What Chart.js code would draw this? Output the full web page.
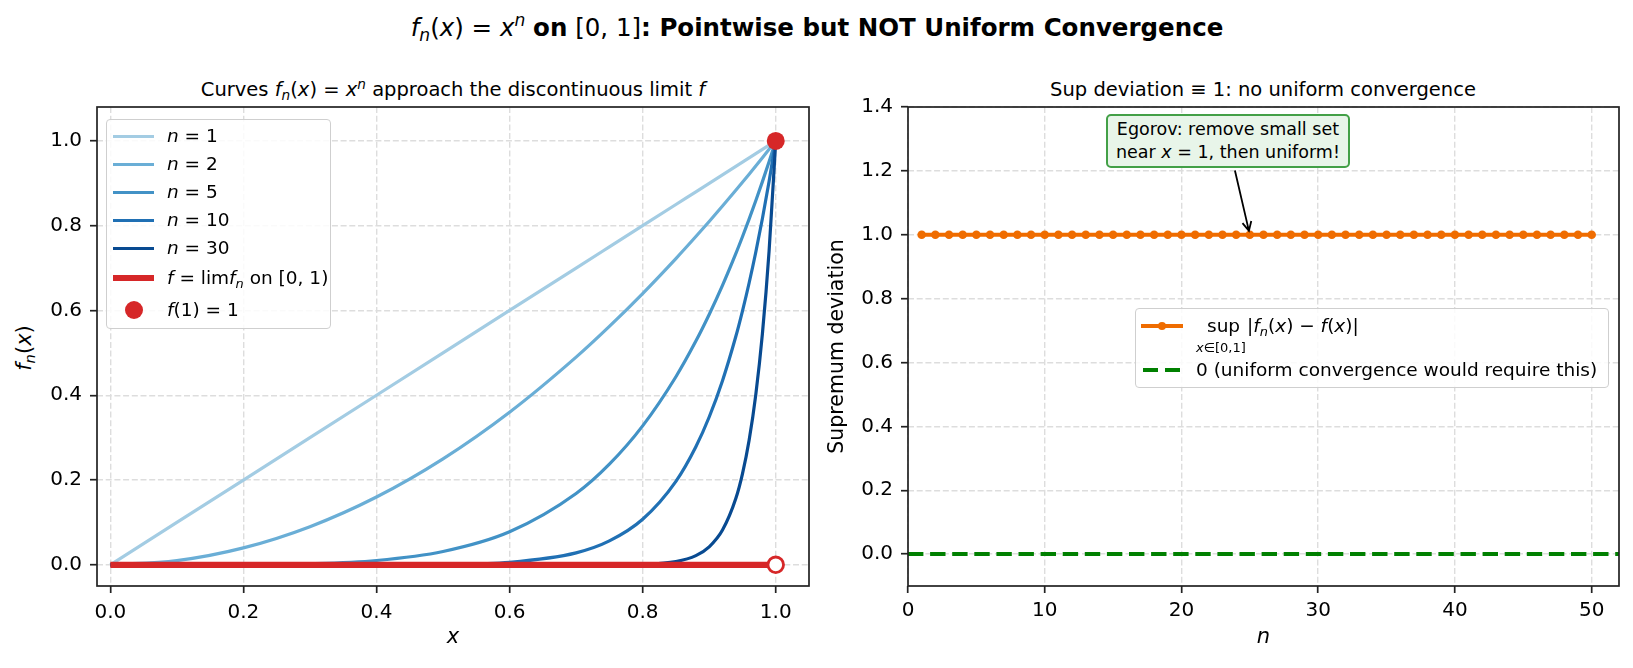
<!DOCTYPE html>
<html>
<head>
<meta charset="utf-8">
<script src="https://cdn.jsdelivr.net/npm/chart.js@4.4.1/dist/chart.umd.min.js"></script>
<style>
  body { margin: 0; width: 1633px; height: 668px; background: #fff; position: relative; overflow: hidden; font-family: "DejaVu Sans"; color: #000; }
  canvas { position: absolute; top: 0; }
  .txt { position: absolute; white-space: nowrap; line-height: 1; transform: translate(-50%, -50%); }
  .m sub { font-size: 0.7em; vertical-align: -0.3em; line-height: 0; }
  .m sup { font-size: 0.7em; vertical-align: 0.55em; line-height: 0; }
  .legend { position: absolute; box-sizing: border-box; border: 1.5px solid #cfcfcf; border-radius: 4px; background: rgba(255,255,255,0.85); font-size: 18.5px; }
  .legend .sw { position: absolute; }
  .legend .lab { position: absolute; white-space: nowrap; line-height: 1; transform: translateY(-50%); }
  #note { position: absolute; box-sizing: border-box; border: 2px solid #43a047; border-radius: 5px; background: #e8f5e9; font-size: 17.5px; line-height: 1.32; text-align: center; padding: 2px 8px; white-space: nowrap; }
</style>
</head>
<body>
<div class="txt m" style="left:817px; top:28px; font-size:24.5px;"><i>f</i><sub><i>n</i></sub>(<i>x</i>) = <i>x</i><sup><i>n</i></sup> <b>on</b> [0, 1]<b>: Pointwise but NOT Uniform Convergence</b></div>
<div class="txt m" style="left:453px; top:90px; font-size:19.5px;">Curves <i>f</i><sub><i>n</i></sub>(<i>x</i>) = <i>x</i><sup><i>n</i></sup> approach the discontinuous limit <i>f</i></div>
<div class="txt m" style="left:1263px; top:90px; font-size:19.5px;">Sup deviation ≡ 1: no uniform convergence</div>
<div class="txt m" style="left:24px; top:348px; font-size:21px; transform: translate(-50%, -50%) rotate(-90deg);"><i>f</i><sub><i>n</i></sub>(<i>x</i>)</div>

<canvas id="left-chart" width="830" height="668" style="left:0px"></canvas>
<canvas id="right-chart" width="807" height="668" style="left:826px"></canvas>

<div id="note" class="m">Egorov: remove small set<br>near <i>x</i> = 1, then uniform!</div>
<div id="left-legend" class="legend m" style="left:106px; top:119px; width:225px; height:210px;"></div>
<div id="right-legend" class="legend m" style="left:1135px; top:308px; width:474px; height:80px;"></div>

<script>
// ---- left panel: f_n(x) = x^n ----
const xs   = [0, 0.1, 0.2, 0.3, 0.4, 0.5, 0.6, 0.7, 0.75, 0.8, 0.85, 0.88, 0.9, 0.92, 0.94, 0.95, 0.96, 0.97, 0.98, 0.99, 1];
const yN1  = [0, 0.1, 0.2, 0.3, 0.4, 0.5, 0.6, 0.7, 0.75, 0.8, 0.85, 0.88, 0.9, 0.92, 0.94, 0.95, 0.96, 0.97, 0.98, 0.99, 1];
const yN2  = [0, 0.01, 0.04, 0.09, 0.16, 0.25, 0.36, 0.49, 0.5625, 0.64, 0.7225, 0.7744, 0.81, 0.8464, 0.8836, 0.9025, 0.9216, 0.9409, 0.9604, 0.9801, 1];
const yN5  = [0, 0.00001, 0.0003, 0.0024, 0.0102, 0.0313, 0.0778, 0.1681, 0.2373, 0.3277, 0.4437, 0.5277, 0.5905, 0.6591, 0.7339, 0.7738, 0.8154, 0.8587, 0.9039, 0.951, 1];
const yN10 = [0, 0, 0, 0.000006, 0.0001, 0.001, 0.006, 0.0282, 0.0563, 0.1074, 0.1969, 0.2785, 0.3487, 0.4344, 0.5386, 0.5987, 0.6648, 0.7374, 0.8171, 0.9044, 1];
const yN30 = [0, 0, 0, 0, 0, 0, 0, 0.00002, 0.0002, 0.0012, 0.0076, 0.0216, 0.0424, 0.082, 0.1563, 0.2146, 0.2939, 0.401, 0.5455, 0.7397, 1];
const limitX = [0, 1];
const limitY = [0, 0];
const jumpX = [1];
const jumpY = [1];
const holeX = [1];
const holeY = [0];
const leftXTicks = [0, 0.2, 0.4, 0.6, 0.8, 1.0];
const leftYTicks = [0, 0.2, 0.4, 0.6, 0.8, 1.0];

// ---- right panel: sup deviation for n = 1..50 ----
const nValues = [1, 2, 3, 4, 5, 6, 7, 8, 9, 10, 11, 12, 13, 14, 15, 16, 17, 18, 19, 20, 21, 22, 23, 24, 25,
                 26, 27, 28, 29, 30, 31, 32, 33, 34, 35, 36, 37, 38, 39, 40, 41, 42, 43, 44, 45, 46, 47, 48, 49, 50];
const supDeviation = [1, 1, 1, 1, 1, 1, 1, 1, 1, 1, 1, 1, 1, 1, 1, 1, 1, 1, 1, 1, 1, 1, 1, 1, 1,
                      1, 1, 1, 1, 1, 1, 1, 1, 1, 1, 1, 1, 1, 1, 1, 1, 1, 1, 1, 1, 1, 1, 1, 1, 1];
const zeroX = [0, 52];
const zeroY = [0, 0];
const rightXTicks = [0, 10, 20, 30, 40, 50];
const rightYTicks = [0, 0.2, 0.4, 0.6, 0.8, 1.0, 1.2, 1.4];
const notePos = { x: 23.4, y: 1.295 };
const noteTarget = { x: 25, y: 1.0 };

const blues = ["#a3cce3", "#6aaed6", "#4292c6", "#2070b4", "#084a91"];
const red = "#d62728";
const orange = "#ef6c00";
const green = "#008000";

Chart.defaults.font.family = "DejaVu Sans";
Chart.defaults.color = "#000";

const pts = (x, y) => x.map((v, i) => ({ x: v, y: y[i] }));

// axes frame on all four sides, like matplotlib spines
const frame = {
  id: "frame",
  afterDraw(chart) {
    const { ctx, chartArea: a } = chart;
    ctx.save();
    ctx.strokeStyle = "#222";
    ctx.lineWidth = 1.7;
    ctx.strokeRect(a.left, a.top, a.right - a.left, a.bottom - a.top);
    ctx.restore();
  },
};

function axis(min, max, ticks, decimals, size, title) {
  return {
    type: "linear",
    min: min,
    max: max,
    afterBuildTicks: (s) => { s.ticks = ticks.map((v) => ({ value: v })); },
    afterFit: (s) => { if (s.isHorizontal()) s.height = size; else s.width = size; },
    ticks: {
      font: { size: 20 },
      color: "#000",
      padding: decimals === null ? 6 : 8,
      maxRotation: 0,
      autoSkip: false,
      callback: (v) => (decimals === null ? v : Number(v).toFixed(decimals)),
    },
    grid: {
      color: "#dddddd",
      lineWidth: 1.4,
      tickLength: 7,
      tickColor: "#222",
      tickWidth: 1.7,
      tickBorderDash: [],
    },
    border: { display: false, dash: [6, 2.7] },
    title: title,
  };
}

function curve(label, y, color, order) {
  return {
    label: label,
    data: pts(xs, y),
    borderColor: color,
    backgroundColor: color,
    borderWidth: 3.2,
    pointRadius: 0,
    cubicInterpolationMode: "monotone",
    order: order,
  };
}

new Chart(document.getElementById("left-chart"), {
  type: "line",
  data: {
    datasets: [
      curve("n = 1", yN1, blues[0], 6),
      curve("n = 2", yN2, blues[1], 5),
      curve("n = 5", yN5, blues[2], 4),
      curve("n = 10", yN10, blues[3], 3),
      curve("n = 30", yN30, blues[4], 2),
      { label: "limit", data: pts(limitX, limitY), borderColor: red, borderWidth: 6.2, pointRadius: 0, order: 1 },
      { label: "f(1)", data: pts(jumpX, jumpY), showLine: false, pointRadius: 9, pointBackgroundColor: red, pointBorderWidth: 0, order: 0 },
      { label: "hole", data: pts(holeX, holeY), showLine: false, pointRadius: 7.8, pointBackgroundColor: "#fff", pointBorderColor: red, pointBorderWidth: 2.8, order: 0 },
    ],
  },
  options: {
    responsive: false,
    animation: false,
    layout: { padding: { left: 0, right: 21, top: 107, bottom: 0 } },
    plugins: { legend: { display: false }, tooltip: { enabled: false } },
    scales: {
      x: axis(-0.02, 1.05, leftXTicks, 1, 82, {
        display: true, text: "x", font: { size: 21, style: "italic" }, padding: { top: 0, bottom: 18 },
      }),
      y: axis(-0.05, 1.08, leftYTicks, 1, 97, { display: false }),
    },
  },
  plugins: [frame],
});

const note = document.getElementById("note");

// annotation arrow from the note box to the point at n = 25
const arrow = {
  id: "arrow",
  afterDraw(chart) {
    const { ctx, scales } = chart;
    const cx = scales.x.getPixelForValue(notePos.x);
    const cy = scales.y.getPixelForValue(notePos.y);
    const tx = scales.x.getPixelForValue(noteTarget.x);
    const ty = scales.y.getPixelForValue(noteTarget.y);
    const dx = tx - cx, dy = ty - cy;
    const len = Math.hypot(dx, dy);
    const ux = dx / len, uy = dy / len;
    const t0 = (note.offsetHeight / 2 + 3) / uy;
    const sx = cx + ux * t0, sy = cy + uy * t0;
    const ex = tx - ux * 4, ey = ty - uy * 4;
    ctx.save();
    ctx.strokeStyle = "#000";
    ctx.lineWidth = 1.8;
    ctx.beginPath();
    ctx.moveTo(sx, sy);
    ctx.lineTo(ex, ey);
    ctx.moveTo(ex - ux * 9 - uy * 4.5, ey - uy * 9 + ux * 4.5);
    ctx.lineTo(ex, ey);
    ctx.lineTo(ex - ux * 9 + uy * 4.5, ey - uy * 9 - ux * 4.5);
    ctx.stroke();
    ctx.restore();
  },
};

const rightChart = new Chart(document.getElementById("right-chart"), {
  type: "line",
  data: {
    datasets: [
      {
        label: "sup",
        data: pts(nValues, supDeviation),
        borderColor: orange,
        backgroundColor: orange,
        borderWidth: 4,
        pointRadius: 4.3,
        pointBorderWidth: 0,
        order: 0,
      },
      {
        label: "zero",
        data: pts(zeroX, zeroY),
        borderColor: green,
        borderWidth: 4,
        borderDash: [15.4, 6.7],
        pointRadius: 0,
        order: 1,
      },
    ],
  },
  options: {
    responsive: false,
    animation: false,
    layout: { padding: { left: 0, right: 14, top: 107, bottom: 0 } },
    plugins: { legend: { display: false }, tooltip: { enabled: false } },
    scales: {
      x: axis(0, 52, rightXTicks, null, 82, {
        display: true, text: "n", font: { size: 21, style: "italic" }, padding: { top: 0, bottom: 18 },
      }),
      y: axis(-0.1, 1.4, rightYTicks, 1, 82, {
        display: true, text: "Supremum deviation", font: { size: 20.5, lineHeight: 1 }, padding: { top: 1, bottom: 0 },
      }),
    },
  },
  plugins: [frame, arrow],
});

// place the note box at its data position
const rx = rightChart.scales.x.getPixelForValue(notePos.x) + 826;
const ry = rightChart.scales.y.getPixelForValue(notePos.y);
note.style.left = (rx - note.offsetWidth / 2) + "px";
note.style.top = (ry - note.offsetHeight / 2) + "px";

// legends (HTML so the math labels keep their sub/superscripts)
function lineSwatch(x0, x1, y, color, width, dash) {
  const bg = dash
    ? "repeating-linear-gradient(90deg," + color + " 0 " + dash[0] + "px, transparent " + dash[0] + "px " + (dash[0] + dash[1]) + "px)"
    : color;
  return '<div class="sw" style="left:' + x0 + "px;top:" + Math.round(y - width / 2) + "px;width:" + (x1 - x0) + "px;height:" + Math.round(width) + "px;background:" + bg + '"></div>';
}
function dotSwatch(x, y, r, color) {
  return '<div class="sw" style="left:' + (x - r) + "px;top:" + (y - r) + "px;width:" + 2 * r + "px;height:" + 2 * r + "px;border-radius:50%;background:" + color + '"></div>';
}
function label(x, y, html) {
  return '<div class="lab" style="left:' + x + "px;top:" + y + 'px">' + html + "</div>";
}

const leftRows = [
  { y: 16, html: "<i>n</i> = 1", color: blues[0] },
  { y: 44, html: "<i>n</i> = 2", color: blues[1] },
  { y: 72, html: "<i>n</i> = 5", color: blues[2] },
  { y: 100, html: "<i>n</i> = 10", color: blues[3] },
  { y: 128, html: "<i>n</i> = 30", color: blues[4] },
];
let lh = "";
leftRows.forEach((r) => { lh += lineSwatch(6, 47, r.y, r.color, 3) + label(60, r.y, r.html); });
lh += lineSwatch(6, 47, 158, red, 6) + label(60, 158, "<i>f</i> = lim<i>f</i><sub><i>n</i></sub> on [0, 1)");
lh += dotSwatch(27, 190, 9, red) + label(60, 190, "<i>f</i>(1) = 1");
document.getElementById("left-legend").innerHTML = lh;

let rh = "";
rh += lineSwatch(5, 47, 17, orange, 4) + dotSwatch(26, 17, 4.3, orange);
rh += label(71, 17, "sup");
rh += '<div class="lab" style="left:60px;top:38px;font-size:13px"><i>x</i>∈[0,1]</div>';
rh += label(111, 17, "|<i>f</i><sub><i>n</i></sub>(<i>x</i>) − <i>f</i>(<i>x</i>)|");
rh += lineSwatch(7, 44, 61, green, 4, [15.4, 6.7]) + label(60, 61, "0 (uniform convergence would require this)");
document.getElementById("right-legend").innerHTML = rh;
</script>
</body>
</html>
